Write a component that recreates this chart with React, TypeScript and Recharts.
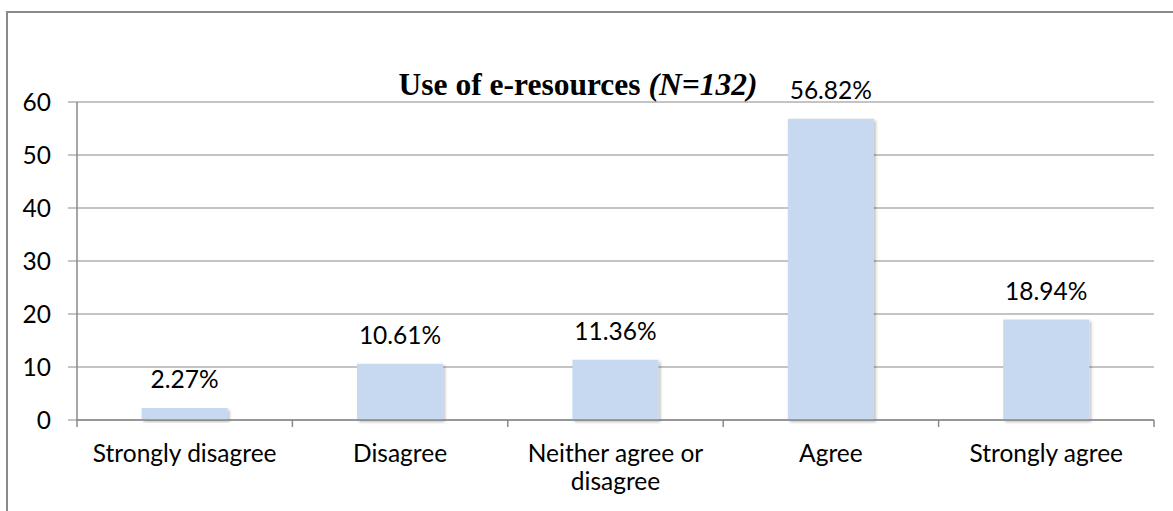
import { BarChart, Bar, XAxis, YAxis, CartesianGrid, LabelList } from "recharts";

const categories = [
  "Strongly disagree",
  "Disagree",
  "Neither agree or disagree",
  "Agree",
  "Strongly agree",
];
const percentages = [2.27, 10.61, 11.36, 56.82, 18.94];
const yTicks = [0, 10, 20, 30, 40, 50, 60];

const data = categories.map((name, i) => ({ name, value: percentages[i] }));

const FONT = "Lato, 'Open Sans', sans-serif";
const LINE_GRAY = "#898989";
const LABEL_SIZE = 24.5;
const X_TICK_MARGIN = 26;
const MAX_CHARS = 17;

// greedy word wrap, Excel breaks the long category onto two lines
function wrap(label: string): string[] {
  const lines: string[] = [];
  let cur = "";
  for (const w of label.split(" ")) {
    const next = cur ? cur + " " + w : w;
    if (next.length > MAX_CHARS && cur) {
      lines.push(cur);
      cur = w;
    } else {
      cur = next;
    }
  }
  if (cur) lines.push(cur);
  return lines;
}

function CategoryTick(props: any) {
  const { x, y, payload, index, visibleTicksCount, width } = props;
  const axisY = y - X_TICK_MARGIN;
  const half = payload.offset || width / visibleTicksCount / 2;
  const lines = wrap(String(payload.value));
  return (
    <g>
      <line x1={x - half} x2={x - half} y1={axisY} y2={axisY + 7} stroke={LINE_GRAY} strokeWidth={1.5} />
      {index === visibleTicksCount - 1 && (
        <line x1={x + half} x2={x + half} y1={axisY} y2={axisY + 7} stroke={LINE_GRAY} strokeWidth={1.5} />
      )}
      <text x={x} y={y + 16} textAnchor="middle" fontSize={LABEL_SIZE} fontFamily={FONT} fill="#000">
        {lines.map((l, i) => (
          <tspan key={i} x={x} dy={i === 0 ? 0 : 28}>
            {l}
          </tspan>
        ))}
      </text>
    </g>
  );
}

export default function App() {
  return (
    <div style={{ position: "absolute", left: 0, top: 0, width: 1173, height: 511, background: "#fff" }}>
      <div
        style={{
          position: "absolute",
          left: 6,
          top: 11,
          right: 0,
          bottom: 0,
          borderTop: `2px solid ${LINE_GRAY}`,
          borderLeft: `2px solid ${LINE_GRAY}`,
        }}
      />
      <BarChart
        width={1173}
        height={511}
        data={data}
        margin={{ top: 102, right: 19, left: 0, bottom: 0 }}
        barCategoryGap="30%"
      >
        <defs>
          <filter id="barShadow" x="-10%" y="-10%" width="130%" height="130%">
            <feDropShadow dx="2" dy="2" stdDeviation="1.5" floodColor="#000" floodOpacity="0.25" />
          </filter>
        </defs>
        <CartesianGrid vertical={false} stroke={LINE_GRAY} strokeWidth={1} />
        <XAxis
          dataKey="name"
          height={91}
          interval={0}
          tickLine={false}
          tickSize={0}
          tickMargin={X_TICK_MARGIN}
          axisLine={{ stroke: LINE_GRAY, strokeWidth: 1.5 }}
          tick={<CategoryTick />}
        />
        <YAxis
          width={77}
          domain={[0, 60]}
          ticks={yTicks}
          interval={0}
          tickSize={9}
          tickMargin={17}
          axisLine={{ stroke: LINE_GRAY, strokeWidth: 1.5 }}
          tickLine={{ stroke: LINE_GRAY, strokeWidth: 1 }}
          tick={{ fontSize: LABEL_SIZE, fontFamily: FONT, fill: "#000" }}
        />
        <Bar dataKey="value" fill="#C6D9F1" filter="url(#barShadow)" isAnimationActive={false}>
          <LabelList
            dataKey="value"
            position="top"
            offset={20}
            formatter={(v: any) => `${Number(v).toFixed(2)}%`}
            style={{ fontSize: LABEL_SIZE, fontFamily: FONT, fill: "#000" }}
          />
        </Bar>
      </BarChart>
      <svg width={1173} height={511} style={{ position: "absolute", left: 0, top: 0, pointerEvents: "none" }}>
        <text
          x={578}
          y={95}
          textAnchor="middle"
          fontFamily="'Liberation Serif', 'Times New Roman', serif"
          fontWeight="bold"
          fontSize={31.5}
          fill="#000"
        >
          Use of e-resources <tspan fontStyle="italic">(N=132)</tspan>
        </text>
      </svg>
    </div>
  );
}
